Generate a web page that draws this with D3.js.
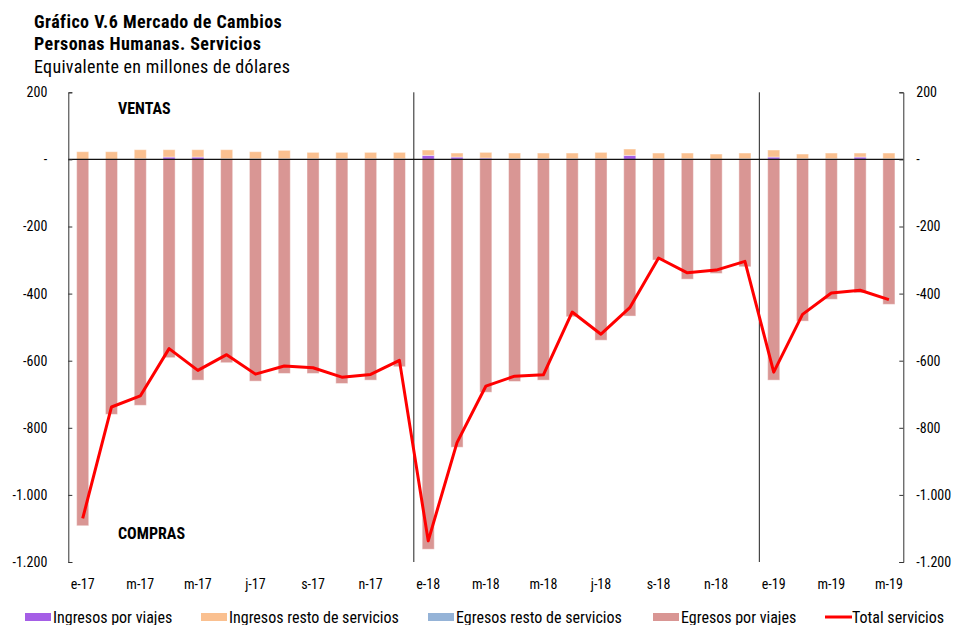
<!DOCTYPE html>
<html>
<head>
<meta charset="utf-8">
<script src="https://cdn.jsdelivr.net/npm/d3@7"></script>
<style>
  body { margin: 0; background: #fff; }
  svg { font-family: "Roboto Condensed", "Liberation Sans Narrow", Roboto, sans-serif; }
</style>
</head>
<body>
<div id="chartArea"></div>
<script>
// meses e-17 .. m-19
const meses = ["e-17","f-17","m-17","a-17","m-17","j-17","j-17","a-17","s-17","o-17","n-17","d-17",
               "e-18","f-18","m-18","a-18","m-18","j-18","j-18","a-18","s-18","o-18","n-18","d-18",
               "e-19","f-19","m-19","a-19","m-19"];
const ingresosViajes = [0,0,2,7,7,2,2,2,2,2,2,2, 12,7,4,2,2,2,2,12,2,2,1,2, 7,2,2,7,2];
const ingresosResto  = [23,23,27,22,22,27,21,25,19,19,19,19, 16,12,17,17,17,17,19,19,17,17,15,17, 21,14,17,12,17];
const egresosResto   = [0,0,0,0,0,0,0,0,0,0,0,0, 0,0,0,0,0,0,0,0,0,0,0,0, 0,0,0,0,0];
const egresosViajes  = [-1092,-760,-733,-591,-658,-606,-661,-638,-638,-668,-658,-618,
                        -1162,-858,-694,-662,-658,-469,-539,-467,-300,-357,-340,-320,
                        -658,-482,-417,-398,-432];
const totalServicios = [-1070,-738,-705,-564,-629,-582,-640,-616,-621,-649,-641,-599,
                        -1137,-844,-676,-646,-642,-455,-521,-442,-294,-338,-330,-304,
                        -634,-462,-398,-390,-418];
const yTicks = [200,0,-200,-400,-600,-800,-1000,-1200];

const series = [
  {key: "Ingresos por viajes", values: ingresosViajes, color: "#a55ee6"},
  {key: "Ingresos resto de servicios", values: ingresosResto, color: "#fac090"},
  {key: "Egresos resto de servicios", values: egresosResto, color: "#95b3d7"},
  {key: "Egresos por viajes", values: egresosViajes, color: "#d99694"}
];

const width = 960, height = 625;
const plotLeft = 68.3, plotRight = 903.3, plotTop = 92.3, plotBottom = 562;

const svg = d3.select("#chartArea").append("svg")
  .attr("width", width).attr("height", height);

const loc = d3.formatLocale({decimal: ",", thousands: ".", grouping: [3], currency: ["$", ""], minus: "-"});
const fmt = d => d === 0 ? "-" : loc.format(",d")(d);

const x = d3.scaleBand().domain(d3.range(meses.length)).range([plotLeft, plotRight])
  .paddingInner(0.58).paddingOuter(0.29);
const y = d3.scaleLinear().domain([-1200, 200]).range([plotBottom, plotTop]);

// titulos
const t = svg.append("g").attr("fill", "#000");
t.append("text").attr("x", 34).attr("y", 27.5).attr("font-size", 18).attr("font-weight", "bold")
  .attr("letter-spacing", 0.45).text("Gráfico V.6 Mercado de Cambios");
t.append("text").attr("x", 34).attr("y", 50).attr("font-size", 18).attr("font-weight", "bold")
  .attr("letter-spacing", 0.45).text("Personas Humanas. Servicios");
t.append("text").attr("x", 34).attr("y", 72.5).attr("font-size", 18)
  .attr("letter-spacing", 0.3).text("Equivalente en millones de dólares");

// barras apiladas
const rows = meses.map((m, i) => {
  const r = {i: i};
  series.forEach(s => r[s.key] = s.values[i]);
  return r;
});
const stacked = d3.stack().keys(series.map(s => s.key)).offset(d3.stackOffsetDiverging)(rows);

svg.append("g").selectAll("g")
  .data(stacked)
  .join("g")
  .attr("fill", (d, k) => series[k].color)
  .selectAll("rect")
  .data(d => d)
  .join("rect")
  .attr("x", d => x(d.data.i))
  .attr("width", x.bandwidth())
  .attr("y", d => y(Math.max(d[0], d[1])))
  .attr("height", d => Math.abs(y(d[0]) - y(d[1])))
  .attr("stroke", "rgba(255,255,255,0.45)")
  .attr("stroke-width", 1);

// separadores de año
[12, 24].forEach(i => {
  const xs = x(i) - x.step() * x.paddingInner() / 2;
  svg.append("line").attr("x1", xs).attr("x2", xs).attr("y1", plotTop).attr("y2", plotBottom)
    .attr("stroke", "#222").attr("stroke-width", 1);
});

// linea de cero
svg.append("line").attr("x1", plotLeft).attr("x2", plotRight).attr("y1", y(0)).attr("y2", y(0))
  .attr("stroke", "#111").attr("stroke-width", 1.3);

// ejes
const yl = svg.append("g").attr("transform", `translate(${plotLeft},0)`)
  .call(d3.axisLeft(y).tickValues(yTicks).tickFormat(fmt).tickSize(-4).tickPadding(21));
const yr = svg.append("g").attr("transform", `translate(${plotRight},0)`)
  .call(d3.axisRight(y).tickValues(yTicks).tickFormat(fmt).tickSize(-4).tickPadding(13));
[yl, yr].forEach(g => {
  g.selectAll("path, line").attr("stroke", "#333");
  g.selectAll("text").attr("font-size", 14).attr("fill", "#000")
    .attr("font-family", "\"Roboto Condensed\", \"Liberation Sans Narrow\", Roboto, sans-serif");
});

// etiquetas del eje x
svg.append("g").selectAll("text")
  .data(meses.map((m, i) => ({m: m, i: i})).filter(d => d.i % 2 === 0))
  .join("text")
  .attr("x", d => x(d.i) + x.bandwidth() / 2)
  .attr("y", 589)
  .attr("text-anchor", "middle")
  .attr("font-size", 14)
  .text(d => d.m);

// linea total
svg.append("path")
  .datum(totalServicios)
  .attr("fill", "none")
  .attr("stroke", "#ff0000")
  .attr("stroke-width", 3)
  .attr("stroke-linejoin", "round")
  .attr("d", d3.line().x((d, i) => x(i) + x.bandwidth() / 2).y(d => y(d)));

svg.append("text").attr("x", 118).attr("y", 113.5).attr("font-size", 16).attr("font-weight", "bold").text("VENTAS");
svg.append("text").attr("x", 118).attr("y", 538.5).attr("font-size", 16).attr("font-weight", "bold").text("COMPRAS");

// leyenda
const legendItems = [
  {label: "Ingresos por viajes", color: "#a55ee6", x: 25},
  {label: "Ingresos resto de servicios", color: "#fac090", x: 201},
  {label: "Egresos resto de servicios", color: "#95b3d7", x: 428},
  {label: "Egresos por viajes", color: "#d99694", x: 653},
  {label: "Total servicios", color: "#ff0000", x: 825, line: true}
];
const lg = svg.append("g").selectAll("g").data(legendItems).join("g")
  .attr("transform", d => `translate(${d.x},617)`);
lg.filter(d => !d.line).append("rect").attr("x", 0).attr("y", -4).attr("width", 26).attr("height", 8)
  .attr("fill", d => d.color);
lg.filter(d => d.line).append("line").attr("x1", 0).attr("x2", 27).attr("y1", 0).attr("y2", 0)
  .attr("stroke", d => d.color).attr("stroke-width", 3);
lg.append("text").attr("x", d => d.line ? 27 : 28).attr("y", 5.5).attr("font-size", 16).text(d => d.label);
</script>
</body>
</html>
